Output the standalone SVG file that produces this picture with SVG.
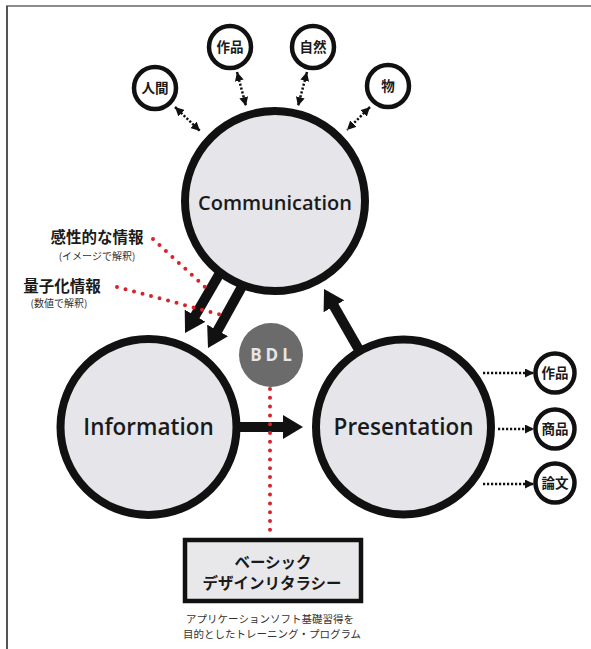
<svg xmlns="http://www.w3.org/2000/svg" width="591" height="649" viewBox="0 0 591 649">
<defs>
<style>
.big{fill:#e5e5ea;stroke:#111;stroke-width:8}
.small{fill:#fff;stroke:#111;stroke-width:4.5}
.en{font-family:"Open Sans","Noto Sans",sans-serif;font-weight:600;fill:#1a1a1a;text-anchor:middle}
.jp{font-family:"Noto Sans CJK JP",sans-serif;font-weight:700;fill:#1a1a1a;text-anchor:middle}
.jpr{font-family:"Noto Sans CJK JP",sans-serif;font-weight:400;fill:#333;text-anchor:middle}
.thick{stroke:#111;stroke-width:10;fill:none;marker-end:url(#bigHead)}
.dot2{stroke:#111;stroke-width:2.5;stroke-dasharray:2.2 1.8;fill:none;marker-start:url(#smallHead);marker-end:url(#smallHead)}
.dot1{stroke:#111;stroke-width:2.5;stroke-dasharray:2.2 1.8;fill:none;marker-end:url(#smallHead)}
.red{stroke:#d8232a;stroke-width:4;stroke-linecap:round;stroke-dasharray:0 8.8;fill:none}
</style>
<marker id="bigHead" viewBox="0 0 20 24" refX="2" refY="12" markerWidth="20" markerHeight="24" markerUnits="userSpaceOnUse" orient="auto"><path d="M0,0 L20,12 L0,24 z" fill="#111"/></marker>
<marker id="smallHead" viewBox="0 0 10 10" refX="10" refY="5" markerWidth="9" markerHeight="9" markerUnits="userSpaceOnUse" orient="auto-start-reverse"><path d="M0,0 L10,5 L0,10 z" fill="#111"/></marker>
</defs>
<rect width="591" height="649" fill="#fff"/>
<g id="frame">
<line x1="6" y1="6" x2="591" y2="6" stroke="#666" stroke-width="1.5"/>
<line x1="7" y1="6" x2="7" y2="649" stroke="#555" stroke-width="2"/>
</g>
<g id="communication"><circle class="big" cx="275" cy="201" r="90"/><text class="en" x="275" y="210" font-size="20">Communication</text></g>
<g id="information"><circle class="big" cx="148.5" cy="427" r="88"/><text class="en" x="148.5" y="435" font-size="22.5">Information</text></g>
<g id="presentation"><circle class="big" cx="403.5" cy="427" r="87.5"/><text class="en" x="403.5" y="435" font-size="22.5">Presentation</text></g>
<g id="bdl"><circle cx="271" cy="355" r="32" fill="#6b6b6b"/><text x="273" y="361" font-family="'Open Sans',sans-serif" font-weight="700" font-size="17" letter-spacing="4" fill="#e6e6e6" text-anchor="middle">BDL</text></g>
<g id="ningen"><circle class="small" cx="155" cy="88" r="21"/><text class="jp" x="155" y="93" font-size="13.5">人間</text></g>
<g id="sakuhin-top"><circle class="small" cx="230" cy="47" r="21"/><text class="jp" x="230" y="52" font-size="13.5">作品</text></g>
<g id="shizen"><circle class="small" cx="313" cy="47" r="21"/><text class="jp" x="313" y="52" font-size="13.5">自然</text></g>
<g id="mono"><circle class="small" cx="388" cy="86" r="21"/><text class="jp" x="388" y="91" font-size="13.5">物</text></g>
<g id="sakuhin-right"><circle class="small" cx="555" cy="373" r="19.5"/><text class="jp" x="555" y="378" font-size="13.5">作品</text></g>
<g id="shohin"><circle class="small" cx="555" cy="429" r="19.5"/><text class="jp" x="555" y="434" font-size="13.5">商品</text></g>
<g id="ronbun"><circle class="small" cx="555" cy="483" r="19.5"/><text class="jp" x="555" y="488" font-size="13.5">論文</text></g>
<g id="kansei"><text class="jp" x="97" y="243" font-size="15.5">感性的な情報</text><text class="jpr" x="97" y="260" font-size="10">(イメージで解釈)</text></g>
<g id="ryoshi"><text class="jp" x="62" y="292" font-size="15.5">量子化情報</text><text class="jpr" x="59" y="307" font-size="10">(数値で解釈)</text></g>
<g id="bdl-box"><rect x="185" y="540" width="176" height="61" fill="#e8e8eb" stroke="#111" stroke-width="4.5"/><text class="jp" x="273" y="568" font-size="15.5">ベーシック</text><text class="jp" x="272" y="589" font-size="15.5">デザインリタラシー</text></g>
<g id="caption"><text class="jpr" x="270" y="623" font-size="10.5">アプリケーションソフト基礎習得を</text><text class="jpr" x="272" y="638" font-size="10.5">目的としたトレーニング・プログラム</text></g>
<g id="connectors">
<line class="thick" x1="219.2" y1="274.2" x2="194.1" y2="317.4"/>
<line class="thick" x1="241.8" y1="286.8" x2="216.7" y2="332.2"/>
<line class="thick" x1="238.5" y1="427" x2="285" y2="427"/>
<line class="thick" x1="358.5" y1="349.1" x2="333" y2="304.6"/>
<line class="dot2" x1="175" y1="107" x2="200" y2="131"/>
<line class="dot2" x1="237" y1="72" x2="246" y2="106"/>
<line class="dot2" x1="307" y1="72" x2="298" y2="106"/>
<line class="dot2" x1="370" y1="107" x2="347" y2="130"/>
<line class="dot1" x1="483" y1="373" x2="534" y2="373"/>
<line class="dot1" x1="498" y1="429" x2="534" y2="429"/>
<line class="dot1" x1="483" y1="484" x2="534" y2="484"/>
<line class="red" x1="153" y1="239" x2="205" y2="287"/>
<line class="red" x1="117" y1="287" x2="222" y2="315"/>
<line class="red" x1="270" y1="389" x2="270" y2="537"/>
</g>
</svg>
